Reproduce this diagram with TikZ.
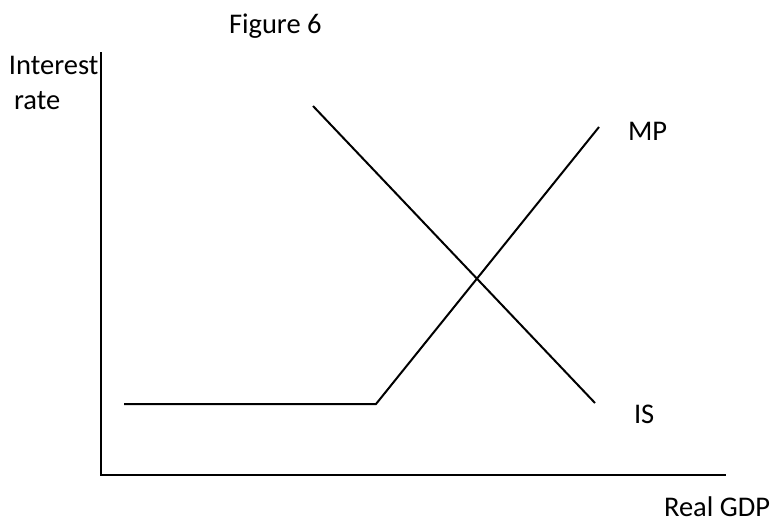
\documentclass[tikz,border=0pt]{standalone}
\usepackage{fontspec}
\setmainfont{Carlito}
\tikzset{lbl/.style={anchor=base west,inner sep=0pt,font=\fontsize{28.5}{32}\selectfont}}
\begin{document}
\begin{tikzpicture}[x=1pt,y=-1pt,line width=2pt]
\useasboundingbox (0,0) rectangle (775,525);
\node (fig) at (228,33) [lbl] {Figure 6};
\node (int) at (8,74) [lbl] {Interest};
\node (rate) at (13,109) [lbl] {rate};
\node (gdp) at (663,516) [lbl] {Real GDP};

\coordinate (o) at (101,475);
\coordinate (ytop) at (101,52);
\coordinate (xend) at (726,475);
\draw (ytop) -- (o) -- (xend);

\coordinate (mpa) at (124,404);
\coordinate (mpb) at (376,404);
\coordinate (mpc) at (599,127);
\draw (mpa) -- (mpb) -- (mpc);
\node (mp) at (627,140) [lbl] {MP};

\coordinate (isa) at (313,106);
\coordinate (isb) at (595,403);
\draw (isa) -- (isb);
\node (is) at (633,423) [lbl] {IS};

\end{tikzpicture}
\end{document}
